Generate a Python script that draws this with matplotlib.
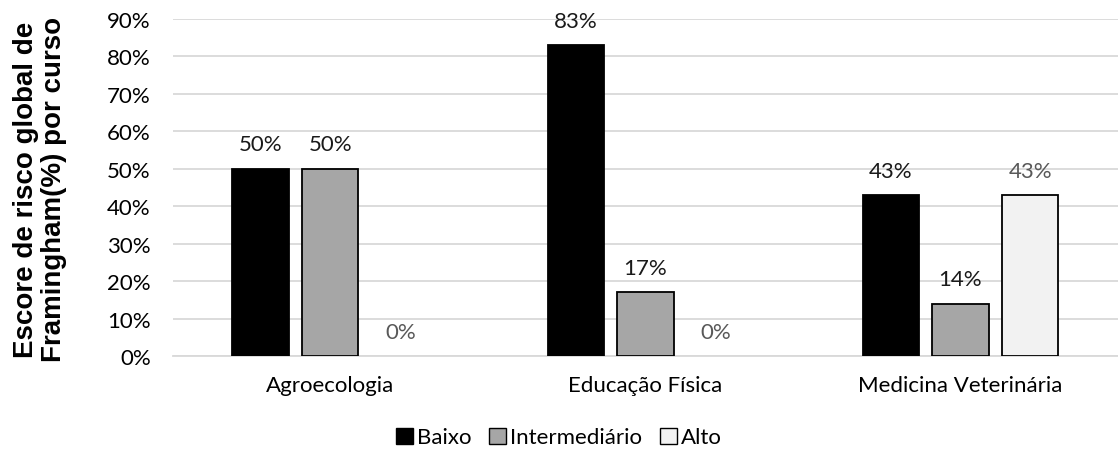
import matplotlib
matplotlib.use("Agg")
import matplotlib.pyplot as plt
import numpy as np
from matplotlib.patches import Patch
from matplotlib.ticker import PercentFormatter

categories = ["Agroecologia", "Educação Física", "Medicina Veterinária"]
series_names = ["Baixo", "Intermediário", "Alto"]
baixo = [50, 83, 43]
intermediario = [50, 17, 14]
alto = [0, 0, 43]
yticks = [0, 10, 20, 30, 40, 50, 60, 70, 80, 90]
ylabel = "Escore de risco global de\nFramingham(%) por curso"

series = [baixo, intermediario, alto]
fills = ["#000000", "#a6a6a6", "#f2f2f2"]
label_colors = ["#1a1a1a", "#1a1a1a", "#595959"]

plt.rcParams['font.family'] = ['Lato', 'DejaVu Sans']
FS = 16

fig = plt.figure(figsize=(11.18, 4.52), dpi=100)
ax = fig.add_axes([0.1547, 0.2102, 0.8453, 0.7456])

x = np.arange(len(categories))
step = 0.222
width = 0.178
for i, (vals, fc, lc) in enumerate(zip(series, fills, label_colors)):
    pos = x + (i - 1) * step
    edges = ["#000000" if v > 0 else "none" for v in vals]
    ax.bar(pos, vals, width=width, color=fc, edgecolor=edges, linewidth=1.3, zorder=3)
    for p, v in zip(pos, vals):
        ax.annotate(f"{v}%", (p, v), xytext=(0, 17.5), textcoords="offset points",
                    ha="center", va="center", fontsize=FS, color=lc)

ax.set_xlim(-0.5, 2.5)
ax.set_ylim(0, 90)
ax.set_yticks(yticks)
ax.yaxis.set_major_formatter(PercentFormatter(decimals=0))
ax.set_xticks(x)
ax.set_xticklabels(categories, fontsize=FS)
ax.tick_params(axis="both", length=0, labelsize=FS, colors="#000000")
ax.tick_params(axis="x", pad=14)
ax.tick_params(axis="y", pad=16)
ax.grid(axis="y", color="#d9d9d9", linewidth=1.3, zorder=0)
for s in ["top", "right", "left"]:
    ax.spines[s].set_visible(False)
ax.spines["bottom"].set_color("#d9d9d9")
ax.spines["bottom"].set_linewidth(1.3)
ax.set_axisbelow(True)

fig.text(0.036, 0.58, ylabel, rotation=90, ha="center", va="center",
         fontsize=20, fontweight="bold", family="Liberation Sans", linespacing=1.1)

handles = [Patch(facecolor=fc, edgecolor="#000000", linewidth=1.0) for fc in fills]
fig.legend(handles, series_names, loc="center", bbox_to_anchor=(0.5, 0.03),
           ncol=3, frameon=False, fontsize=FS, handlelength=0.75, handleheight=0.75,
           handletextpad=0.2, columnspacing=0.8, borderpad=0)

fig.savefig("out.png", dpi=100)
